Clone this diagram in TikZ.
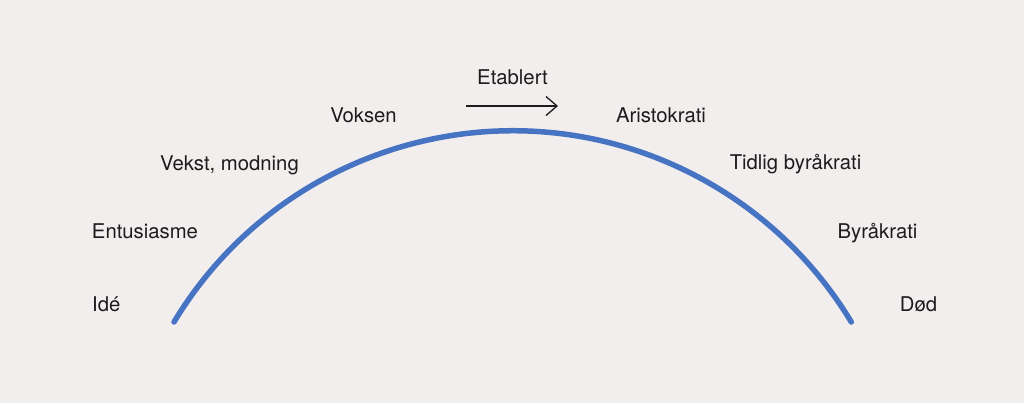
\documentclass[tikz,border=0pt]{standalone}
\usepackage{fontspec}
\setmainfont{TeX Gyre Heros}
\usetikzlibrary{arrows.meta}
\definecolor{bgcol}{HTML}{F2EEEE}
\definecolor{arccol}{HTML}{4673C2}
\definecolor{txtcol}{HTML}{1C1C1C}
\tikzset{lbl/.style={anchor=base,inner sep=0pt,text=txtcol,font=\fontsize{20.3}{24}\selectfont}}

\begin{document}
\begin{tikzpicture}[x=1pt,y=1pt]
\fill[bgcol] (0,0) rectangle (1024,403);
\draw [arccol,line width=5.5pt,line cap=round] (174,81) arc (148.9:31.1:395.5);
\coordinate (a1) at (466,297);
\coordinate (a2) at (558,297);
\draw [txtcol,line width=1.3pt,-{Straight Barb[length=11pt,width=19pt]}] (a1)--(a2);
\node [lbl] (etab) at (512.5,318) {Etablert};
\node [lbl] (voks) at (363.5,280) {Voksen};
\node [lbl] (aris) at (661,280) {Aristokrati};
\node [lbl] (vekst) at (229.5,232) {Vekst, modning};
\node [lbl] (tidl) at (795.5,233) {Tidlig byråkrati};
\node [lbl] (entu) at (145,164) {Entusiasme};
\node [lbl] (byra) at (877.5,164) {Byråkrati};
\node [lbl,anchor=base west] (ide) at (92,91) {Idé};
\node [lbl] (dod) at (918.5,91) {Død};
\end{tikzpicture}
\end{document}
